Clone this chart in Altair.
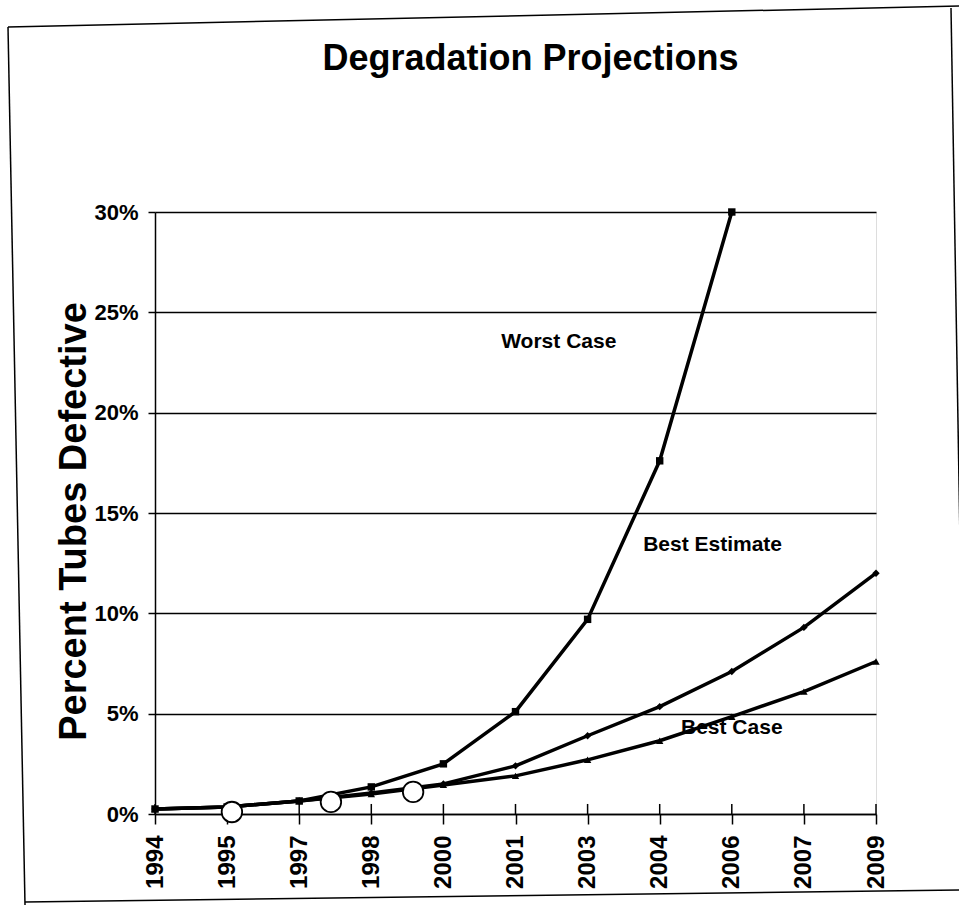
import altair as alt
import pandas as pd

# Projection periods (1.5-year steps) and the year shown for each tick
periods = [1994, 1995.5, 1997, 1998.5, 2000, 2001.5, 2003, 2004.5, 2006, 2007.5, 2009]
period_labels = ["1994", "1995", "1997", "1998", "2000", "2001", "2003", "2004", "2006", "2007", "2009"]

# Percent of tubes defective for each scenario
worst_case = [0.25, 0.35, 0.65, 1.35, 2.5, 5.1, 9.7, 17.6, 30.0]
best_estimate = [0.25, 0.35, 0.65, 1.05, 1.5, 2.4, 3.9, 5.35, 7.1, 9.3, 12.0]
best_case = [0.25, 0.35, 0.65, 1.0, 1.45, 1.9, 2.7, 3.65, 4.85, 6.1, 7.6]

# Inspection results
observed_years = [1995.6, 1997.66, 1999.37]
observed_values = [0.1, 0.6, 1.1]

# Scenario names and where each name is written
series_names = ["Worst Case", "Best Estimate", "Best Case"]
name_years = [2002.4, 2005.6, 2006.0]
name_values = [23.5, 13.4, 4.3]

y_ticks = [0, 5, 10, 15, 20, 25, 30]

rows = []
for name, vals in zip(series_names, [worst_case, best_estimate, best_case]):
    for yr, v in zip(periods, vals):
        rows.append({"series": name, "year": yr, "pct": v})
proj = pd.DataFrame(rows)
obs = pd.DataFrame({"year": observed_years, "pct": observed_values})
names = pd.DataFrame({"series": series_names, "year": name_years, "pct": name_values})
ticks = pd.DataFrame({"year": periods})

FONT = "Liberation Sans"
W, H = 721, 602

label_expr = "{" + ",".join(f"'{p}':'{l}'" for p, l in zip(periods, period_labels)) + "}[toString(datum.value)]"

x_scale = alt.Scale(domain=[1994, 2009], nice=False, zero=False)
y_scale = alt.Scale(domain=[0, 30], nice=False)

x_axis = alt.Axis(
    values=periods, labelExpr=label_expr, labelAngle=-90, labelFontSize=24,
    labelFont=FONT, labelFontWeight="bold", labelColor="black", labelPadding=11,
    tickSize=10, tickColor="black", tickWidth=1.5, domainColor="black",
    domainWidth=1.5, grid=False, title=None, labelOverlap=False,
)
y_axis = alt.Axis(
    values=y_ticks, labelExpr="datum.value + '%'", labelFontSize=22, labelFont=FONT,
    labelFontWeight="bold", labelColor="black", labelPadding=10, tickSize=7,
    tickColor="black", tickWidth=1.5, domainColor="black", domainWidth=1.5,
    grid=True, gridColor="black", gridWidth=1.5, gridOpacity=1,
    title="Percent Tubes Defective", titleFont=FONT, titleFontSize=38,
    titleFontWeight="bold", titleColor="black", titleX=-100, titleY=309,
    titleBaseline="top", titleAlign="center", titleAngle=-90,
)

base = alt.Chart(proj)

lines = base.mark_line(color="black", strokeWidth=3.5).encode(
    x=alt.X("year:Q", scale=x_scale, axis=x_axis),
    y=alt.Y("pct:Q", scale=y_scale, axis=y_axis),
    detail="series:N",
)

points = base.mark_point(filled=True, color="black", opacity=1).encode(
    x=alt.X("year:Q", scale=x_scale),
    y=alt.Y("pct:Q", scale=y_scale),
    shape=alt.Shape(
        "series:N",
        scale=alt.Scale(domain=series_names, range=["square", "diamond", "triangle-up"]),
        legend=None,
    ),
    size=alt.value(55),
)

# Upper half of the cross ticks on the time axis
upper_ticks = alt.Chart(ticks).mark_rule(color="black", strokeWidth=1.5).encode(
    x=alt.X("year:Q", scale=x_scale),
    y=alt.datum(0, scale=y_scale),
    y2=alt.datum(0.5),
)

observed = alt.Chart(obs).mark_point(
    shape="circle", filled=True, fill="white", stroke="black", strokeWidth=1.8, opacity=1
).encode(
    x=alt.X("year:Q", scale=x_scale),
    y=alt.Y("pct:Q", scale=y_scale),
    size=alt.value(420),
)

series_text = alt.Chart(names).mark_text(
    font=FONT, fontSize=21, fontWeight="bold", color="black", align="center", baseline="middle"
).encode(
    x=alt.X("year:Q", scale=x_scale),
    y=alt.Y("pct:Q", scale=y_scale),
    text="series:N",
)

# Page border around the figure
border = pd.DataFrame({
    "x0": [-147, -147, 796, -130], "y0": [-185, -185, -204, 690],
    "x1": [806, -130, 806, 806], "y1": [-206, 693, 388, 678],
})
frame = alt.Chart(border).mark_rule(color="black", strokeWidth=1.5).encode(
    x=alt.X("x0:Q", scale=None), y=alt.Y("y0:Q", scale=None),
    x2="x1:Q", y2="y1:Q",
)

chart = alt.layer(upper_ticks, lines, points, observed, series_text, frame).properties(
    width=W, height=H,
    title=alt.TitleParams(
        "Degradation Projections", font=FONT, fontSize=36, fontWeight="bold",
        color="black", anchor="middle", dx=15, offset=-101, baseline="alphabetic",
    ),
    autosize=alt.AutoSizeParams(type="none"),
    padding={"left": 155, "top": 212, "right": 83, "bottom": 91},
).configure_view(stroke=None).configure(background="white")

chart.save("out.html", embed_options={"renderer": "svg", "actions": False})
